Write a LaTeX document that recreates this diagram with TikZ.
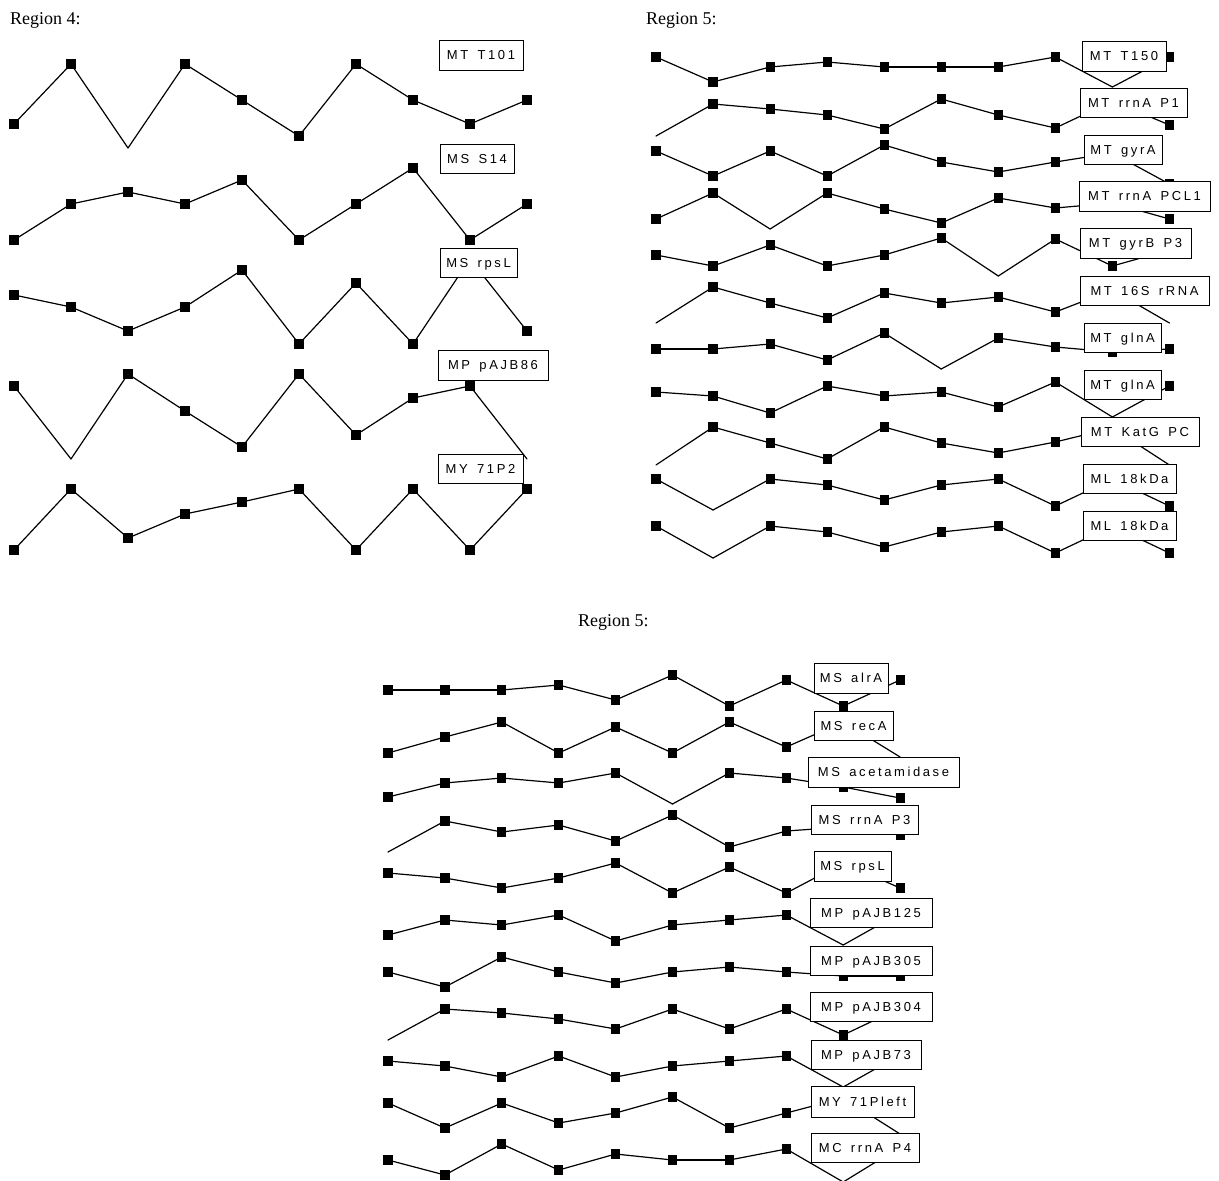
\documentclass[tikz,border=0pt]{standalone}
\usepackage{fontspec}
\setmainfont{Liberation Serif}
\newfontfamily\lblfont[LetterSpace=20,WordSpace=1.5]{Liberation Sans}
\tikzset{
  pline/.style={line width=1.2pt, line cap=round, line join=round},
  lbl/.style={draw, fill=white, line width=1pt, inner sep=0pt,
    font=\lblfont\fontsize{13}{15}\selectfont, text height=9.3pt, text depth=0pt},
  ttl/.style={font=\fontsize{18}{22}\selectfont, inner sep=0pt, anchor=base west},
}
% #1 first x, #2 step in x, #3 list of y/marker
\newcommand\plotrow[3]{%
  \foreach \yy/\mm [count=\ii from 0, remember=\yy as \yprev (initially 0)] in {#3} {%
    \ifnum\ii>0 \draw[pline] ({#1+#2*(\ii-1)},\yprev) -- ({#1+#2*\ii},\yy);\fi
    \ifnum\mm=1 \fill ({#1+#2*\ii},\yy) +(-4.6,-4.6) rectangle +(4.6,4.6);\fi
  }}
% #1 name, #2 left, #3 top, #4 right, #5 bottom, #6 text
\newcommand\lbl[6]{%
  \node[lbl, minimum width={#4-#2}, minimum height={#5-#3}] (#1) at ({(#2+#4)/2},{(#3+#5)/2}) {#6};}
\begin{document}
\begin{tikzpicture}[x=1pt, y=-1pt]
\useasboundingbox (0,0) rectangle (1219,1181);
\clip (0,0) rectangle (1219,1181);

\node[ttl] (t4) at (10,24) {Region 4:};
\node[ttl] (t5a) at (646,24) {Region 5:};
\node[ttl] (t5b) at (578,626) {Region 5:};

% ---------- Region 4 ----------
\plotrow{14}{57}{124/1,64/1,148/0,64/1,100/1,136/1,64/1,100/1,124/1,100/1}
\plotrow{14}{57}{240/1,204/1,192/1,204/1,180/1,240/1,204/1,168/1,240/1,204/1}
\plotrow{14}{57}{295/1,307/1,331/1,307/1,270/1,344/1,283/1,344/1,259/1,331/1}
\plotrow{14}{57}{386/1,459/0,374/1,411/1,447/1,374/1,435/1,398/1,386/1,459/0}
\plotrow{14}{57}{550/1,489/1,538/1,514/1,502/1,489/1,550/1,489/1,550/1,489/1}

% ---------- Region 5 (top right) ----------
\plotrow{656}{57.05}{57/1,82/1,67/1,62/1,67/1,67/1,67/1,57/1,87/0,57/1}
\plotrow{656}{57.05}{136/0,104/1,109/1,115/1,129/1,99/1,115/1,128/1,101/1,125/1}
\plotrow{656}{57.05}{151/1,176/1,151/1,176/1,145/1,162/1,172/1,162/1,153/1,184/1}
\plotrow{656}{57.05}{219/1,193/1,229/0,193/1,209/1,223/1,198/1,208/1,203/1,219/1}
\plotrow{656}{57.05}{255/1,266/1,245/1,266/1,255/1,238/1,276/0,239/1,266/1,250/1}
\plotrow{656}{57.05}{323/0,287/1,303/1,318/1,293/1,303/1,297/1,312/1,290/1,323/0}
\plotrow{656}{57.05}{349/1,349/1,344/1,360/1,333/1,369/0,338/1,347/1,352/1,349/1}
\plotrow{656}{57.05}{392/1,396/1,413/1,386/1,396/1,392/1,407/1,382/1,417/0,386/1}
\plotrow{656}{57.05}{465/0,427/1,443/1,459/1,427/1,443/1,453/1,442/1,428/1,465/0}
\plotrow{656}{57.05}{479/1,510/0,479/1,485/1,500/1,485/1,479/1,506/1,479/1,506/1}
\plotrow{656}{57.05}{526/1,558/0,526/1,532/1,547/1,532/1,526/1,553/1,526/1,553/1}

% ---------- Region 5 (bottom) ----------
\plotrow{388}{56.9}{690/1,690/1,690/1,685/1,700/1,675/1,706/1,680/1,706/1,680/1}
\plotrow{388}{56.9}{753/1,737/1,722/1,753/1,727/1,753/1,722/1,747/1,722/1,757/0}
\plotrow{388}{56.9}{797/1,783/1,778/1,783/1,773/1,804/0,773/1,778/1,787/1,798/1}
\plotrow{388}{56.9}{852/0,821/1,832/1,825/1,841/1,815/1,847/1,831/1,827/1,835/1}
\plotrow{388}{56.9}{873/1,878/1,888/1,878/1,863/1,893/1,867/1,893/1,863/1,888/1}
\plotrow{388}{56.9}{935/1,920/1,925/1,915/1,941/1,925/1,920/1,915/1,945/0,913/1}
\plotrow{388}{56.9}{972/1,987/1,957/1,972/1,983/1,972/1,967/1,972/1,976/1,976/1}
\plotrow{388}{56.9}{1040/0,1009/1,1013/1,1019/1,1029/1,1009/1,1029/1,1009/1,1035/1,1008/1}
\plotrow{388}{56.9}{1061/1,1066/1,1077/1,1056/1,1077/1,1066/1,1061/1,1056/1,1087/0,1055/1}
\plotrow{388}{56.9}{1103/1,1128/1,1103/1,1123/1,1113/1,1097/1,1128/1,1113/1,1098/1,1134/0}
\plotrow{388}{56.9}{1160/1,1175/1,1144/1,1170/1,1154/1,1160/1,1160/1,1149/1,1182/0,1147/1}

% ---------- labels ----------
\lbl{a1}{439}{40}{523}{70}{MT T101}
\lbl{a2}{440}{144}{514}{173}{MS S14}
\lbl{a3}{440}{248}{517}{277}{MS rpsL}
\lbl{a4}{438}{350}{548}{380}{MP pAJB86}
\lbl{a5}{438}{454}{523}{483}{MY 71P2}

\lbl{b1}{1082}{41}{1166}{71}{MT T150}
\lbl{b2}{1080}{88}{1187}{117}{MT rrnA P1}
\lbl{b3}{1084}{135}{1162}{164}{MT gyrA}
\lbl{b4}{1079}{181}{1210}{211}{MT rrnA PCL1}
\lbl{b5}{1080}{228}{1191}{258}{MT gyrB P3}
\lbl{b6}{1080}{276}{1209}{305}{MT 16S rRNA}
\lbl{b7}{1084}{323}{1161}{352}{MT glnA}
\lbl{b8}{1084}{370}{1161}{399}{MT glnA}
\lbl{b9}{1081}{417}{1199}{446}{MT KatG PC}
\lbl{b10}{1083}{464}{1176}{493}{ML 18kDa}
\lbl{b11}{1083}{511}{1176}{540}{ML 18kDa}

\lbl{c1}{814}{663}{888}{693}{MS alrA}
\lbl{c2}{814}{711}{893}{740}{MS recA}
\lbl{c3}{808}{757}{959}{787}{MS acetamidase}
\lbl{c4}{811}{805}{918}{834}{MS rrnA P3}
\lbl{c5}{814}{851}{891}{881}{MS rpsL}
\lbl{c6}{810}{898}{932}{927}{MP pAJB125}
\lbl{c7}{810}{946}{932}{975}{MP pAJB305}
\lbl{c8}{810}{992}{932}{1021}{MP pAJB304}
\lbl{c9}{811}{1040}{921}{1069}{MP pAJB73}
\lbl{c10}{811}{1086}{914}{1117}{MY 71Pleft}
\lbl{c11}{811}{1133}{919}{1162}{MC rrnA P4}
\end{tikzpicture}
\end{document}
